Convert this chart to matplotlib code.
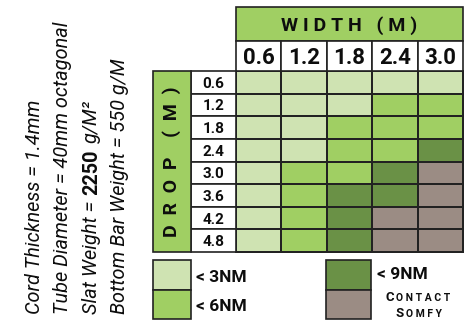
import matplotlib
matplotlib.use("Agg")
import matplotlib.pyplot as plt
import numpy as np
from matplotlib.colors import ListedColormap
from matplotlib.patches import Rectangle

plt.rcParams['font.family'] = ['Roboto', 'DejaVu Sans']

# data
widths = ["0.6", "1.2", "1.8", "2.4", "3.0"]
drops = ["0.6", "1.2", "1.8", "2.4", "3.0", "3.6", "4.2", "4.8"]
# 0 = < 3Nm, 1 = < 6Nm, 2 = < 9Nm, 3 = contact Somfy
torque = [
    [0, 0, 0, 0, 0],
    [0, 0, 0, 1, 1],
    [0, 0, 1, 1, 1],
    [0, 0, 1, 1, 2],
    [0, 1, 1, 2, 3],
    [0, 1, 2, 2, 3],
    [0, 1, 2, 3, 3],
    [0, 1, 2, 3, 3],
]
legend_labels = ["< 3NM", "< 6NM", "< 9NM", "CONTACT SOMFY"]
colors = ["#cfe3b2", "#a0cf63", "#6a9146", "#9b8c84"]
notes = ["Cord Thickness = 1.4mm",
         "Tube Diameter = 40mm octagonal",
         ("Slat Weight =", "2250", "g/M²"),
         "Bottom Bar Weight = 550 g/M"]

edge = "#222222"
ink = "#0d0d0d"
lw = 1.2

fig = plt.figure(figsize=(4.7, 3.21), dpi=100)

# background axes in pixel units (y down) for free text / legend
bg = fig.add_axes([0, 0, 1, 1])
bg.set_xlim(0, 470)
bg.set_ylim(321, 0)
bg.axis('off')

# heat table
ax = fig.add_axes([236 / 470, (321 - 252) / 321, 227 / 470, 181 / 321])
mesh = ax.pcolormesh(np.array(torque), cmap=ListedColormap(colors), vmin=-0.5, vmax=3.5,
                     edgecolors=edge, linewidth=lw)
mesh.set_clip_on(False)
ax.set_xlim(0, len(widths))
ax.set_ylim(len(drops), 0)
ax.axis('off')

# column headers
hh = 1.33
ax.add_patch(Rectangle((0, -hh - 1.5), len(widths), 1.5, fc=colors[1], ec=edge, lw=lw, clip_on=False))
ax.text(len(widths) / 2, -hh - 0.75, "W I D T H   ( M )", ha='center', va='center_baseline',
        fontsize=14, fontweight='bold', color=ink)
for j, w in enumerate(widths):
    ax.add_patch(Rectangle((j, -hh), 1, hh, fc='white', ec=edge, lw=lw, clip_on=False))
    ax.text(j + 0.5, -hh / 2, w, ha='center', va='center_baseline', fontsize=16,
            fontweight='bold', color=ink)

# row headers
for i, d in enumerate(drops):
    ax.add_patch(Rectangle((-1, i), 1, 1, fc='white', ec=edge, lw=lw, clip_on=False))
    ax.text(-0.5, i + 0.5, d, ha='center', va='center_baseline', fontsize=11,
            fontweight='bold', color=ink)
ax.add_patch(Rectangle((-1.83, 0), 0.83, len(drops), fc=colors[1], ec=edge, lw=lw, clip_on=False))
ax.text(-1.415, len(drops) / 2, "D  R  O  P    (  M  )", ha='center', va='center', rotation=90,
        fontsize=14, fontweight='bold', color=ink)

# legend
boxes = [(153, 260, 38, 30), (153, 290, 38, 29), (326, 260, 45, 30), (326, 290, 45, 29)]
for (x, y, w, h), c in zip(boxes, colors):
    bg.add_patch(Rectangle((x, y), w, h, fc=c, ec=edge, lw=lw))
bg.text(196, 276, legend_labels[0], ha='left', va='center_baseline', fontsize=12.5, fontweight='bold', color=ink)
bg.text(196, 305, legend_labels[1], ha='left', va='center_baseline', fontsize=12.5, fontweight='bold', color=ink)
bg.text(377, 273, legend_labels[2], ha='left', va='center_baseline', fontsize=12.5, fontweight='bold', color=ink)

renderer = fig.canvas.get_renderer()


def small_caps(xc, y, word):
    big = bg.text(0, y, word[0], ha='left', va='baseline', fontsize=9.5, fontweight='bold', color=ink)
    rest = bg.text(0, y, " ".join(word[1:]), ha='left', va='baseline', fontsize=7.5,
                   fontweight='bold', color=ink)
    w1 = big.get_window_extent(renderer).width
    w2 = rest.get_window_extent(renderer).width
    gap = 2.5
    x0 = xc - (w1 + gap + w2) / 2
    big.set_x(x0)
    rest.set_x(x0 + w1 + gap)


w1, w2 = legend_labels[3].split()
small_caps(418, 301, w1)
small_caps(419, 317, w2)

# rotated notes on the left
base_x = [40, 68, 97, 125]
y0 = 314
fs = 14.3
for bx, note in zip(base_x, notes):
    if isinstance(note, str):
        bg.text(bx, y0, note, rotation=90, rotation_mode='anchor', ha='left', va='baseline',
                style='italic', fontsize=fs, color=ink)
    else:
        y = y0
        for k, part in enumerate(note):
            bold = (k == 1)
            t = bg.text(bx, y, part, rotation=90, rotation_mode='anchor', ha='left', va='baseline',
                        style='normal' if bold else 'italic', fontweight='bold' if bold else 'normal',
                        fontsize=fs, color=ink)
            y -= t.get_window_extent(renderer).height + 6

fig.savefig("out.png", dpi=100)
